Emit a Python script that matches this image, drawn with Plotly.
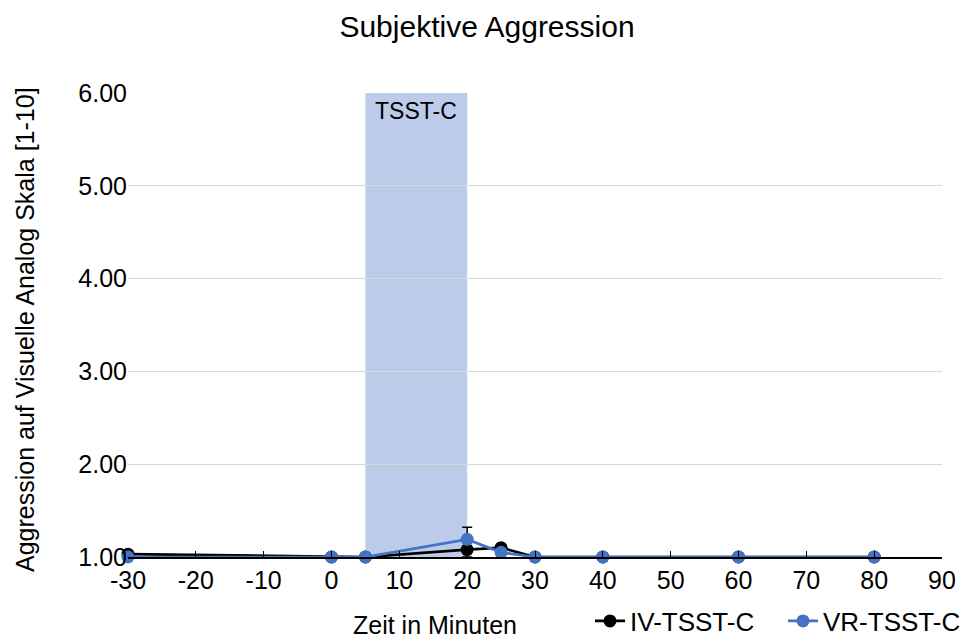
import plotly.graph_objects as go

minutes = [-30, 0, 5, 20, 25, 30, 40, 60, 80]
iv_values = [1.03, 1.00, 1.00, 1.08, 1.10, 1.00, 1.00, 1.00, 1.00]
iv_err = [0, 0, 0, 0.08, 0.02, 0, 0, 0, 0]
vr_values = [1.00, 1.00, 1.00, 1.19, 1.05, 1.00, 1.00, 1.00, 1.00]
vr_err = [0, 0, 0, 0.13, 0.02, 0, 0, 0, 0]
x_ticks = [-30, -20, -10, 0, 10, 20, 30, 40, 50, 60, 70, 80, 90]
x_tick_labels = ["-30", "-20", "-10", "0", "10", "20", "30", "40", "50", "60", "70", "80", "90"]
y_ticks = [1, 2, 3, 4, 5, 6]
stress_start, stress_end = 5, 20

FONT = "Liberation Sans, Arial, sans-serif"
FS = 25

# page body has an 8px offset; positions below are figure pixels
OFF = 8
W, H = 1030, 690
L, T = 128 - OFF, 93 - OFF
R = W - (942 - OFF)
B = H - (557 - OFF)
PW, PH = W - L - R, H - T - B


def px(sx):
    return (sx - 128) / PW


def py(sy):
    return (557 - sy) / PH


fig = go.Figure()
fig.add_vrect(x0=stress_start, x1=stress_end, fillcolor="#BCCBEA", line_width=0, layer="below")
fig.add_trace(go.Scatter(
    x=minutes, y=iv_values, name="IV-TSST-C", mode="lines+markers",
    line=dict(color="black", width=2.75), marker=dict(color="black", size=13),
    error_y=dict(type="data", array=iv_err, color="black", thickness=1.5, width=5),
    cliponaxis=False))
fig.add_trace(go.Scatter(
    x=minutes, y=vr_values, name="VR-TSST-C", mode="lines+markers",
    line=dict(color="#4472C4", width=2.75), marker=dict(color="#4472C4", size=13),
    error_y=dict(type="data", array=vr_err, color="black", thickness=1.5, width=5),
    cliponaxis=False))

fig.add_annotation(x=(stress_start + stress_end) / 2, y=6, yref="y", xref="x",
                   text="TSST-C", showarrow=False, yanchor="top", yshift=-3,
                   font=dict(family=FONT, size=FS - 2, color="black"))
fig.add_annotation(x=px(435), xref="paper", y=py(625), yref="paper",
                   text="Zeit in Minuten", showarrow=False, yanchor="middle", xanchor="center",
                   font=dict(family=FONT, size=FS, color="black"))
fig.add_annotation(x=px(25), xref="paper", y=py(330), yref="paper",
                   text="Aggression auf Visuelle Analog Skala [1-10]", textangle=-90,
                   showarrow=False, yanchor="middle", xanchor="center",
                   font=dict(family=FONT, size=FS, color="black"))

fig.update_layout(
    width=W, height=H,
    margin=dict(l=L, r=R, t=T, b=B),
    paper_bgcolor="white", plot_bgcolor="white",
    title=dict(text="Subjektive Aggression", x=(487 - OFF) / W, xanchor="center", y=1 - (26 - OFF) / H,
               yanchor="middle", font=dict(family=FONT, size=30, color="black")),
    font=dict(family=FONT, size=FS, color="black"),
    showlegend=True,
    legend=dict(orientation="h", x=px(590), xanchor="left", y=py(621), yanchor="middle",
                font=dict(family=FONT, size=26, color="black"), entrywidth=148,
                tracegroupgap=0, bgcolor="rgba(0,0,0,0)"),
    xaxis=dict(range=[-30, 90], tickvals=x_ticks, ticktext=x_tick_labels, ticks="inside", ticklen=6,
               tickcolor="black", automargin=False,
               showline=True, linecolor="black", linewidth=1.5, showgrid=False, zeroline=False,
               tickfont=dict(family=FONT, size=FS, color="black")),
    yaxis=dict(range=[1, 6], tickvals=y_ticks, tickformat=".2f", showgrid=True, automargin=False,
               gridcolor="#D9D9D9", gridwidth=1, zeroline=False, showline=False, ticks="",
               tickfont=dict(family=FONT, size=FS, color="black")),
)
fig.write_html("out.html")
